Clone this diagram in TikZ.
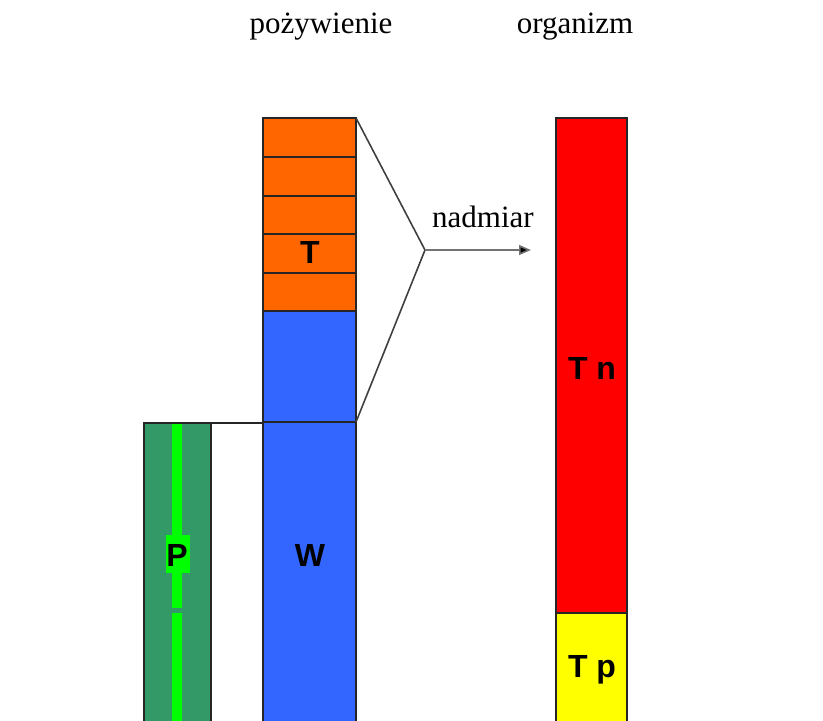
\documentclass[tikz,border=0pt]{standalone}
\usepackage{fontspec}
\setmainfont{Liberation Serif}
\newfontfamily\labelfont{Liberation Sans}
\usetikzlibrary{arrows.meta}
\definecolor{foodorange}{HTML}{FF6600}
\definecolor{foodblue}{HTML}{3366FF}
\definecolor{bodyred}{HTML}{FF0000}
\definecolor{bodyyellow}{HTML}{FFFF00}
\definecolor{darkgreen}{HTML}{339966}
\definecolor{brightgreen}{HTML}{00FF00}
\tikzset{
  edge/.style={draw=black!85, line width=0.8pt},
  barlabel/.style={font=\labelfont\bfseries\fontsize{16}{18}\selectfont, inner sep=0pt},
  heading/.style={font=\fontsize{15.5}{18}\selectfont, inner sep=0pt},
}
\begin{document}
\begin{tikzpicture}[x=0.5pt, y=-0.5pt]
\useasboundingbox (0,0) rectangle (823,720);

% key corner points
\coordinate (foodTL) at (263,118);
\coordinate (foodTR) at (356,118);
\coordinate (foodMR) at (356,422);
\coordinate (apex) at (425,250);
\coordinate (arrowEnd) at (531,250);

% organism column
\fill[bodyred] (556,118) rectangle (627,613);
\fill[bodyyellow] (556,613) rectangle (627,722);
\draw[edge] (556,722) -- (556,118) -- (627,118) -- (627,722);
\draw[edge] (556,613) -- (627,613);

% food column: orange part split into five layers, blue part below
\fill[foodorange] (263,118) rectangle (356,311);
\fill[foodblue] (263,311) rectangle (356,722);
\draw[edge] (263,722) -- (foodTL) -- (foodTR) -- (356,722);
\foreach \yy in {157,196,234,273,311,422}
  \draw[edge] (263,\yy) -- (356,\yy);

% green column with its light stripe
\fill[darkgreen] (144,423) rectangle (211,722);
\fill[brightgreen] (172,423) rectangle (182,608);
\fill[brightgreen] (172,613) rectangle (182,722);
\fill[brightgreen] (166,535) rectangle (190,573);
\draw[edge] (144,722) -- (144,423) -- (263,423);
\draw[edge] (211,423) -- (211,722);

% excess bracket and arrow
\draw[edge, draw=black!75] (foodTR) -- (apex) -- (foodMR);
\draw[line width=0.8pt, draw=black!55, -{Triangle[length=6pt,width=5pt,fill=black]}] (apex) -- (arrowEnd);

% labels
\node[heading] (hfood) at (321,27) {pożywienie};
\node[heading] (hbody) at (575,27) {organizm};
\node[heading] (excess) at (483,217) {nadmiar};
\node[barlabel] (lT) at (310,252) {T};
\node[barlabel] (lW) at (310,555) {W};
\node[barlabel] (lP) at (177,555) {P};
\node[barlabel] (lTn) at (592,368) {T n};
\node[barlabel] (lTp) at (592,670) {T p};
\end{tikzpicture}
\end{document}
